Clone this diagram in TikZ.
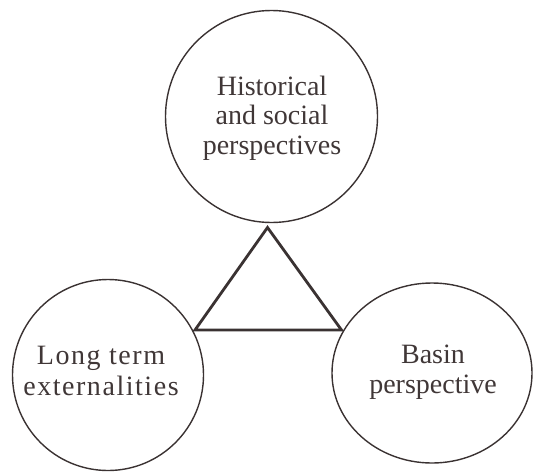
\documentclass[tikz,border=0pt]{standalone}
\usepackage{fontspec}
\setmainfont{Liberation Serif}
\newfontfamily\spacedfont[LetterSpace=5.5]{Liberation Serif}
\usetikzlibrary{shapes.geometric}
\definecolor{ink}{RGB}{58,50,50}
\definecolor{txt}{RGB}{64,55,55}
\tikzset{
  bubble/.style={draw=ink, line width=1.4pt, inner sep=0pt},
  label/.style={inner sep=0pt, align=center, text=txt,
    font=\fontsize{28}{29.5}\selectfont},
  tri/.style={draw=ink, line width=2.8pt, line join=miter}
}
\begin{document}
\begin{tikzpicture}[x=1pt,y=-1pt]
\useasboundingbox (0,0) rectangle (534,471);
\node[bubble, circle, minimum size=212pt] (hist) at (271.5,116.5) {};
\node[bubble, circle, minimum size=191pt] (long) at (108,375) {};
\node[bubble, ellipse, minimum width=200pt, minimum height=180pt] (basin) at (432,373) {};
\node[label] (histtext) at (272,118) {Historical\\and social\\perspectives};
\node[label, font=\fontsize{28}{31}\spacedfont] (longtext) at (101,370.5) {Long term\\externalities};
\node[label] (basintext) at (433,372) {Basin\\perspective};
\coordinate (apex) at (267.5,227.5);
\coordinate (bl) at (195,330);
\coordinate (br) at (341.5,330);
\draw[tri] (apex) -- (bl) -- (br) -- cycle;
\end{tikzpicture}
\end{document}
